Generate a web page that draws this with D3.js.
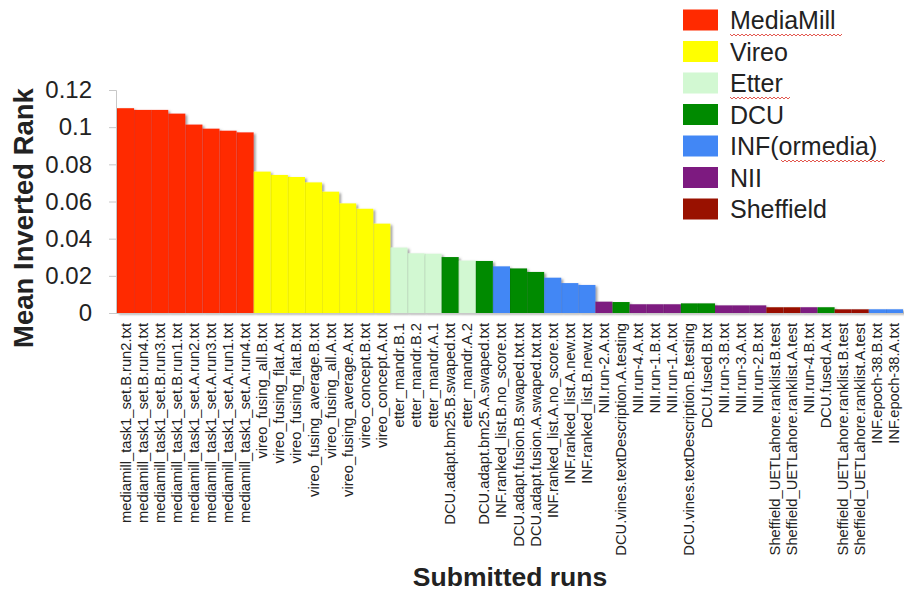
<!DOCTYPE html>
<html><head><meta charset="utf-8">
<script src="https://cdn.jsdelivr.net/npm/d3@7/dist/d3.min.js"></script>
<style>
body{margin:0;background:#fff;}
svg{display:block;font-family:"Liberation Sans",Arial,sans-serif;}
</style></head>
<body><svg id="c" width="904" height="594"></svg>
<script>
const runs = [
"mediamill_task1_set.B.run2.txt","mediamill_task1_set.B.run4.txt","mediamill_task1_set.B.run3.txt","mediamill_task1_set.B.run1.txt",
"mediamill_task1_set.A.run2.txt","mediamill_task1_set.A.run3.txt","mediamill_task1_set.A.run1.txt","mediamill_task1_set.A.run4.txt",
"vireo_fusing_all.B.txt","vireo_fusing_flat.A.txt","vireo_fusing_flat.B.txt","vireo_fusing_average.B.txt",
"vireo_fusing_all.A.txt","vireo_fusing_average.A.txt","vireo_concept.B.txt","vireo_concept.A.txt",
"etter_mandr.B.1","etter_mandr.B.2","etter_mandr.A.1","DCU.adapt.bm25.B.swaped.txt","etter_mandr.A.2",
"DCU.adapt.bm25.A.swaped.txt","INF.ranked_list.B.no_score.txt","DCU.adapt.fusion.B.swaped.txt.txt",
"DCU.adapt.fusion.A.swaped.txt.txt","INF.ranked_list.A.no_score.txt","INF.ranked_list.A.new.txt","INF.ranked_list.B.new.txt",
"NII.run-2.A.txt","DCU.vines.textDescription.A.testing","NII.run-4.A.txt","NII.run-1.B.txt","NII.run-1.A.txt",
"DCU.vines.textDescription.B.testing","DCU.fused.B.txt","NII.run-3.B.txt","NII.run-3.A.txt","NII.run-2.B.txt",
"Sheffield_UETLahore.ranklist.B.test","Sheffield_UETLahore.ranklist.A.test","NII.run-4.B.txt","DCU.fused.A.txt",
"Sheffield_UETLahore.ranklist.B.test","Sheffield_UETLahore.ranklist.A.test","INF.epoch-38.B.txt","INF.epoch-38.A.txt"
];
const teams = [
"MediaMill","MediaMill","MediaMill","MediaMill","MediaMill","MediaMill","MediaMill","MediaMill",
"Vireo","Vireo","Vireo","Vireo","Vireo","Vireo","Vireo","Vireo",
"Etter","Etter","Etter","DCU","Etter","DCU","INF(ormedia)","DCU","DCU","INF(ormedia)","INF(ormedia)","INF(ormedia)",
"NII","DCU","NII","NII","NII","DCU","DCU","NII","NII","NII","Sheffield","Sheffield","NII","DCU",
"Sheffield","Sheffield","INF(ormedia)","INF(ormedia)"
];
const values = [
0.1102,0.1093,0.1093,0.1073,0.1014,0.0992,0.0981,0.0972,
0.0761,0.0743,0.0732,0.0703,0.0653,0.0590,0.0561,0.0481,
0.0352,0.0321,0.0319,0.0301,0.0282,0.0280,0.0251,0.0240,0.0221,0.0190,0.0161,0.0151,
0.0061,0.0059,0.0047,0.0047,0.0047,0.0052,0.0052,0.0041,0.0041,0.0041,0.0031,0.0031,0.0031,0.0031,
0.0020,0.0020,0.0020,0.0020
];
const legendTeams = ["MediaMill","Vireo","Etter","DCU","INF(ormedia)","NII","Sheffield"];
const teamColors = ["#ff2a00","#ffff00","#d2f8d2","#008a00","#4287f5","#7d1a80","#991100"];
const yTicks = [0,0.02,0.04,0.06,0.08,0.1,0.12];

const svg = d3.select("#c");
const color = d3.scaleOrdinal().domain(legendTeams).range(teamColors);
const x = d3.scaleBand().domain(d3.range(runs.length)).range([117,903]).padding(0);
const y = d3.scaleLinear().domain([0,0.12]).range([313,90]);

const defs = svg.append("defs");
const f = defs.append("filter").attr("id","sh").attr("x","-5%").attr("y","-5%").attr("width","110%").attr("height","110%");
f.append("feDropShadow").attr("dx",2).attr("dy",1.5).attr("stdDeviation",1).attr("flood-color","#555").attr("flood-opacity",0.55);

// y axis
const ya = svg.append("g").attr("transform","translate(116,0)")
  .call(d3.axisLeft(y).tickValues(yTicks).tickSize(7).tickPadding(17)
    .tickFormat(d => d===0 ? "0" : String(+d.toFixed(2))));
ya.select(".domain").attr("stroke","#c8c8c8");
ya.selectAll(".tick line").attr("stroke","#c8c8c8");
ya.selectAll(".tick text").attr("font-size",24).attr("fill","#222").attr("font-family","Liberation Sans, Arial, sans-serif");

// bars
const bars = svg.append("g").attr("filter","url(#sh)");
bars.selectAll("rect").data(values).join("rect")
  .attr("x",(d,i)=>x(i)).attr("width",x.bandwidth())
  .attr("y",d=>y(d)).attr("height",d=>y(0)-y(d))
  .attr("fill",(d,i)=>color(teams[i]));
svg.append("g").selectAll("line").data(values).join("line")
  .attr("x1",(d,i)=>x(i)+0.5).attr("x2",(d,i)=>x(i)+0.5)
  .attr("y1",d=>y(d)).attr("y2",y(0))
  .attr("stroke","rgba(0,0,0,0.07)").attr("stroke-width",1);

// x baseline
svg.append("line").attr("x1",116).attr("x2",903).attr("y1",y(0)+0.5).attr("y2",y(0)+0.5).attr("stroke","#c8c8c8");

// x labels
svg.append("g").selectAll("text").data(runs).join("text")
  .attr("transform",(d,i)=>`translate(${x(i)+x.bandwidth()/2+5},323) rotate(-90)`)
  .attr("text-anchor","end").attr("font-size",14.7).attr("fill","#222")
  .text(d=>d);

// axis titles
svg.append("text").attr("transform","translate(33,218) rotate(-90)")
  .attr("text-anchor","middle").attr("font-size",27.5).attr("font-weight","bold").attr("fill","#222")
  .text("Mean Inverted Rank");
svg.append("text").attr("x",510).attr("y",586)
  .attr("text-anchor","middle").attr("font-size",26.5).attr("font-weight","bold").attr("fill","#222")
  .text("Submitted runs");

// legend
const lg = svg.append("g");
const rows = lg.selectAll("g").data(legendTeams).join("g")
  .attr("transform",(d,i)=>`translate(683,${20 + i*31.5})`);
rows.append("rect").attr("x",0).attr("y",-10.5).attr("width",35).attr("height",21)
  .attr("fill",d=>color(d));
rows.append("text").attr("x",47).attr("y",9).attr("font-size",25).attr("fill","#222").text(d=>d);
// spell-check underlines
function wavy(x0,x1,yy){let p=`M${x0},${yy}`;for(let xx=x0;xx<x1;xx+=4){p+=` L${xx+2},${yy+2} L${xx+4},${yy}`;}return p;}
const wv = [[730,842,20+14],[730,790,83+14],[781,883,146+14]];
lg.selectAll("path").data(wv).join("path").attr("d",d=>wavy(d[0],d[1],d[2]))
  .attr("fill","none").attr("stroke","#e0463c").attr("stroke-width",0.9);
</script></body></html>
